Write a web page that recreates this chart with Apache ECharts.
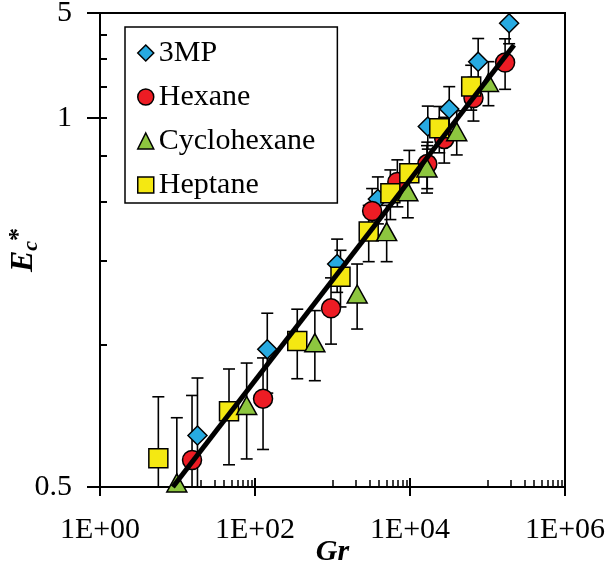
<!DOCTYPE html>
<html>
<head>
<meta charset="UTF-8">
<title>Ec* vs Gr</title>
<script src="https://cdn.jsdelivr.net/npm/echarts@6/dist/echarts.min.js"></script>
<style>
  html, body { margin: 0; padding: 0; background: #fff; }
  #chart1 { width: 610px; height: 568px; }
</style>
</head>
<body>
<div id="chart1"></div>
<script>
var chart1 = echarts.init(document.getElementById('chart1'));

// data: Gr, Ec* and the +/- error bar of each point
var gr3MP = [18.1, 144, 1148, 3850, 16960, 32080, 75800, 190100];
var ec3MP = [0.642, 0.976, 1.477, 2.025, 2.881, 3.136, 3.947, 4.756];
var err3MP = [0.207, 0.187, 0.19, 0.23, 0.3, 0.36, 0.47, 0.45];

var grHexane = [15.4, 127, 957, 3245, 6870, 16710, 27670, 65920, 168700];
var ecHexane = [0.570, 0.768, 1.191, 1.911, 2.200, 2.400, 2.712, 3.308, 3.931];
var errHexane = [0.21, 0.168, 0.19, 0.22, 0.25, 0.27, 0.3, 0.35, 0.48];

var grCyclo = [9.8, 78.1, 592, 2080, 5000, 9376, 16560, 40090, 102800];
var ecCyclo = [0.510, 0.743, 1.008, 1.277, 1.729, 2.099, 2.355, 2.809, 3.567];
var errCyclo = [0.19, 0.17, 0.17, 0.2, 0.235, 0.25, 0.27, 0.3, 0.38];

var grHeptane = [5.66, 46.2, 351, 1268, 2933, 5580, 9800, 23870, 61600];
var ecHeptane = [0.575, 0.722, 1.016, 1.389, 1.729, 2.083, 2.295, 2.855, 3.499];
var errHeptane = [0.2, 0.165, 0.17, 0.19, 0.235, 0.25, 0.27, 0.32, 0.38];

// fitted line, two end points
var fitGr = [8.7, 220000];
var fitEc = [0.5, 4.28];

// axis ticks and labels
var xMajor = [1, 100, 10000, 1000000];
var xLabels = ['1E+00', '1E+02', '1E+04', '1E+06'];
var xMinor = [10, 20, 30, 40, 50, 60, 70, 80, 90,
    1000, 2000, 3000, 4000, 5000, 6000, 7000, 8000, 9000,
    100000, 200000, 300000, 400000, 500000, 600000, 700000, 800000, 900000];
var yMajor = [0.5, 3, 5];
var yLabels = ['0.5', '1', '5'];
var yMinor = [1, 1.5, 2, 2.5, 3, 3.5, 4, 4.5];

var names = ['3MP', 'Hexane', 'Cyclohexane', 'Heptane'];
var colors = ['#27aae1', '#ed1c24', '#8dc63f', '#f4e812'];
var symbols = ['diamond', 'circle', 'triangle', 'rect'];
var sizes = [[19, 19], [19, 19], [20, 18], [19, 19]];
var grs = [gr3MP, grHexane, grCyclo, grHeptane];
var ecs = [ec3MP, ecHexane, ecCyclo, ecHeptane];
var errs = [err3MP, errHexane, errCyclo, errHeptane];

var serif = '"Liberation Serif", "Times New Roman", serif';

function pickLabel(v, vals, texts) {
    for (var i = 0; i < vals.length; i++) {
        if (Math.abs(v - vals[i]) <= vals[i] * 1e-6) return texts[i];
    }
    return '';
}

function errRender(params, api) {
    var x = api.value(0);
    var pLo = api.coord([x, api.value(1)]);
    var pHi = api.coord([x, api.value(2)]);
    var w = 6;
    var st = { stroke: '#000', lineWidth: 1.6 };
    return {
        type: 'group',
        children: [
            { type: 'line', shape: { x1: pLo[0], y1: pLo[1], x2: pHi[0], y2: pHi[1] }, style: st },
            { type: 'line', shape: { x1: pLo[0] - w, y1: pLo[1], x2: pLo[0] + w, y2: pLo[1] }, style: st },
            { type: 'line', shape: { x1: pHi[0] - w, y1: pHi[1], x2: pHi[0] + w, y2: pHi[1] }, style: st }
        ]
    };
}

function logX(extra) {
    return Object.assign({
        type: 'log', logBase: 10, min: 1, max: 1000000, position: 'bottom',
        splitLine: { show: false },
        axisLine: { show: false, onZero: false },
        axisLabel: { show: false },
        axisTick: { show: false }
    }, extra);
}
function logY(extra) {
    return Object.assign({
        type: 'log', logBase: 10, min: 0.5, max: 5, position: 'left',
        splitLine: { show: false },
        axisLine: { show: false, onZero: false },
        axisLabel: { show: false },
        axisTick: { show: false }
    }, extra);
}

var series = [];
// error bars first so the markers cover them
names.forEach(function (n, k) {
    series.push({
        name: n + ' err',
        type: 'custom',
        renderItem: errRender,
        clip: true,
        encode: { x: 0, y: [1, 2] },
        z: 2,
        silent: true,
        data: grs[k].map(function (g, i) { return [g, ecs[k][i] - errs[k][i], ecs[k][i] + errs[k][i]]; })
    });
});
var zOrder = [3, 4, 6, 5];
names.forEach(function (n, k) {
    series.push({
        name: n,
        type: 'scatter',
        symbol: symbols[k],
        symbolSize: sizes[k],
        z: zOrder[k],
        itemStyle: { color: colors[k], borderColor: '#000', borderWidth: 1.5, opacity: 1 },
        data: grs[k].map(function (g, i) { return [g, ecs[k][i]]; })
    });
});
series.push({
    name: 'fit',
    type: 'line',
    symbol: 'none',
    z: 10,
    silent: true,
    lineStyle: { color: '#000', width: 5 },
    data: fitGr.map(function (g, i) { return [g, fitEc[i]]; })
});

var option = {
    backgroundColor: '#fff',
    animation: false,
    grid: {
        left: 100, right: 45, top: 13, bottom: 81,
        outerBoundsMode: 'none',
        containLabel: false,
        show: true, borderColor: '#000', borderWidth: 2, backgroundColor: 'transparent'
    },
    legend: {
        data: names,
        orient: 'vertical',
        left: 125, top: 27,
        padding: [11, 22, 3, 12],
        itemGap: 14,
        itemWidth: 16, itemHeight: 16,
        borderColor: '#000', borderWidth: 1.5,
        backgroundColor: '#fff',
        itemStyle: { borderColor: '#000', borderWidth: 1.5 },
        textStyle: { fontFamily: serif, fontSize: 30, color: '#000', lineHeight: 30 }
    },
    xAxis: [
        logX({
            axisLine: { show: true, onZero: false, lineStyle: { color: '#000', width: 2 } },
            axisTick: { show: true, inside: false, length: 9, customValues: xMajor, lineStyle: { color: '#000', width: 2 } },
            axisLabel: {
                show: true, customValues: xMajor, margin: 28,
                fontFamily: serif, fontSize: 30, color: '#000',
                formatter: function (v) { return pickLabel(v, xMajor, xLabels); }
            },
            name: 'Gr', nameLocation: 'middle', nameGap: 50, nameMoveOverlap: false,
            nameTextStyle: { fontFamily: serif, fontSize: 30, fontWeight: 'bold', fontStyle: 'italic', color: '#000' }
        }),
        logX({ axisTick: { show: true, inside: true, length: 9, customValues: xMajor, lineStyle: { color: '#000', width: 2 } } }),
        logX({ axisTick: { show: true, inside: true, length: 7, customValues: xMinor, lineStyle: { color: '#000', width: 1.5 } } })
    ],
    yAxis: [
        logY({
            axisLine: { show: true, onZero: false, lineStyle: { color: '#000', width: 2 } },
            axisTick: { show: true, inside: false, length: 13, customValues: yMajor, lineStyle: { color: '#000', width: 2 } },
            axisLabel: {
                show: true, customValues: yMajor, margin: 28,
                fontFamily: serif, fontSize: 30, color: '#000',
                formatter: function (v) { return pickLabel(v, yMajor, yLabels); }
            },
            name: '{e|E}{c|c}{s|*}', nameLocation: 'middle', nameGap: 58, nameRotate: 90, nameMoveOverlap: false,
            nameTextStyle: {
                rich: {
                    e: { fontFamily: serif, fontSize: 32, fontWeight: 'bold', fontStyle: 'italic', color: '#000', verticalAlign: 'middle' },
                    c: { fontFamily: serif, fontSize: 22, fontWeight: 'bold', fontStyle: 'italic', color: '#000', verticalAlign: 'bottom', padding: [14, 0, 0, 0] },
                    s: { fontFamily: serif, fontSize: 26, fontWeight: 'bold', color: '#000', verticalAlign: 'top', padding: [0, 0, 10, 0] }
                }
            }
        }),
        logY({ axisTick: { show: true, inside: true, length: 7, customValues: yMajor.concat(yMinor), lineStyle: { color: '#000', width: 2 } } })
    ],
    series: series
};

chart1.setOption(option);
</script>
</body>
</html>
